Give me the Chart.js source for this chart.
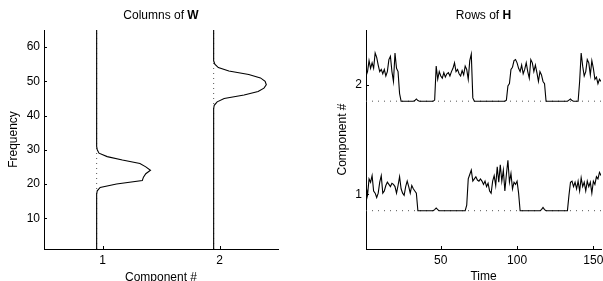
<!DOCTYPE html>
<html><head><meta charset="utf-8">
<script src="https://cdn.jsdelivr.net/npm/chart.js@4/dist/chart.umd.min.js"></script>
<style>
html,body{margin:0;padding:0;background:#fff;overflow:hidden;width:603px;height:281px}
#wrapL{position:absolute;left:0;top:0;width:300px;height:281px}
#wrapR{position:absolute;left:300px;top:0;width:303px;height:281px}
</style></head><body>
<div id="wrapL"><canvas id="cL"></canvas></div>
<div id="wrapR"><canvas id="cR"></canvas></div>
<script>
// ---- data ----
const components = [1, 2];
const frequencyTicks = [10, 20, 30, 40, 50, 60];
const timeTicks = [50, 100, 150];
const componentTicks = [1, 2];

// Columns of W (frequency 1..65)
const W1 = [0,0,0,0,0,0,0,0,0,0,0,0,0,0,0,0,0,
  0.005,0.03,0.17,0.39,0.40,0.42,0.46,0.42,0.37,0.22,0.09,0.02,0.005,
  0,0,0,0,0,0,0,0,0,0,0,0,0,0,0,0,0,0,0,0,0,0,0,0,0,0,0,0,0,0,0,0,0,0,0];
const W2 = [0,0,0,0,0,0,0,0,0,0,0,0,0,0,0,0,0,0,0,0,0,0,0,0,0,0,0,0,0,0,0,0,0,0,0,0,0,0,0,0,0,0,
  0.005,0.03,0.09,0.26,0.38,0.43,0.45,0.44,0.40,0.30,0.13,0.04,0.01,
  0,0,0,0,0,0,0,0,0,0];

// Rows of H (time 1..155)
const H1 = [0.23,0.14,0.29,0.26,0.32,0.18,0.16,0.12,0.16,0.26,0.32,0.16,0.18,0.23,0.26,0.24,0.22,0.25,0.24,0.22,0.16,0.23,0.31,0.20,0.16,0.14,0.22,0.27,0.22,0.16,0.23,0.20,0.18,0.16,
  0,0,0,0,0,0,0,0,0,0,0,0.01,0.025,0.01,0,0,0,0,0,0,0,0,0,0,0,0,0,0,0,0,0,0,
  0.05,0.29,0.33,0.37,0.27,0.29,0.31,0.28,0.27,0.29,0.27,0.24,0.27,0.22,0.25,0.18,0.16,0.27,0.32,0.23,0.40,0.26,0.42,0.27,0.37,0.18,0.33,0.46,0.26,0.34,0.20,0.26,0.24,0.27,0.16,
  0,0,0,0,0,0,0,0,0,0,0,0,0,0,0.01,0.03,0.01,0,0,0,0,0,0,0,0,0,0,0,0,0,0,0,
  0.14,0.26,0.27,0.22,0.26,0.20,0.27,0.18,0.30,0.22,0.26,0.18,0.27,0.22,0.26,0.16,0.27,0.24,0.31,0.29,0.35,0.32];
const H2 = [0.23,0.27,0.37,0.30,0.35,0.30,0.44,0.40,0.33,0.27,0.29,0.25,0.29,0.23,0.27,0.38,0.41,0.27,0.18,0.44,0.30,0.27,0.07,
  0,0,0,0,0,0,0,0,0,0.005,0.02,0.005,0,0,0,0,0,0,0,0,0,0,
  0.01,0.32,0.20,0.27,0.23,0.21,0.26,0.22,0.25,0.26,0.23,0.27,0.30,0.35,0.27,0.29,0.25,0.23,0.28,0.24,0.32,0.29,0.20,0.37,0.43,0.03,
  0,0,0,0,0,0,0,0,0,0,0,0,0,0,0,0,0,0,0,0,0,
  0.01,0.14,0.16,0.29,0.31,0.37,0.38,0.35,0.30,0.27,0.33,0.25,0.29,0.35,0.27,0.21,0.38,0.35,0.27,0.33,0.26,0.18,0.27,0.24,0.18,0.16,
  0,0,0,0,0,0,0,0,0,0,0,0,0,0,0,0.01,0.02,0.005,0,0,0,0,
  0.18,0.44,0.32,0.23,0.27,0.38,0.35,0.24,0.37,0.30,0.20,0.22,0.16,0.20,0.18];

const frequencies = W1.map((_, i) => i + 1);
const times = H1.map((_, i) => i + 1);

// ---- styling / helpers ----
const FONT = "'Liberation Sans', Arial, Helvetica, sans-serif";
const W_SHIFT = -0.05;  // baseline of each column relative to its component index
const H_SHIFT = -0.15;  // baseline of each row relative to its component index

const innerTicks = {
  id: 'innerTicks',
  afterDraw(chart) {
    const ctx = chart.ctx, a = chart.chartArea;
    const xs = chart.scales.x, ys = chart.scales.y;
    ctx.save();
    ctx.strokeStyle = '#000'; ctx.lineWidth = 1;
    ctx.beginPath();
    xs.ticks.forEach(t => {
      const p = Math.round(xs.getPixelForValue(t.value)) + 0.5;
      ctx.moveTo(p, a.bottom); ctx.lineTo(p, a.bottom - 3);
    });
    ys.ticks.forEach(t => {
      const p = Math.round(ys.getPixelForValue(t.value)) + 0.5;
      ctx.moveTo(a.left, p); ctx.lineTo(a.left + 3, p);
    });
    ctx.stroke();
    ctx.restore();
  }
};

const mixedTitle = {
  id: 'mixedTitle',
  afterDraw(chart, args, opts) {
    const parts = opts.parts; if (!parts) return;
    const ctx = chart.ctx, a = chart.chartArea;
    ctx.save();
    ctx.fillStyle = '#000';
    ctx.textBaseline = 'middle';
    let total = 0;
    const widths = parts.map(p => { ctx.font = p[1] + ' 12px ' + FONT; const w = ctx.measureText(p[0]).width; total += w; return w; });
    let x = (a.left + a.right) / 2 - total / 2;
    parts.forEach((p, i) => { ctx.font = p[1] + ' 12px ' + FONT; ctx.textAlign = 'left'; ctx.fillText(p[0], x, opts.y); x += widths[i]; });
    ctx.restore();
  }
};

function axis(min, max, tickVals, size, isX, titleText, titlePad) {
  return {
    type: 'linear', min: min, max: max,
    afterBuildTicks: s => { s.ticks = tickVals.map(v => ({ value: v })); },
    afterFit: s => {
      if (isX) s.height = size; else s.width = size;
      s.paddingLeft = 0; s.paddingRight = 0; s.paddingTop = 0; s.paddingBottom = 0;
    },
    grid: { display: false, drawTicks: false },
    border: { display: true, color: '#000', width: 1 },
    ticks: { color: '#000', font: { family: FONT, size: 12 }, padding: 4, maxRotation: 0, autoSkip: false },
    title: { display: true, text: titleText, color: '#000', font: { family: FONT, size: 12 }, padding: titlePad }
  };
}

const lineDS = (data, color, dash, width) => ({
  data: data, showLine: true, borderColor: color, borderWidth: width,
  borderDash: dash, pointRadius: 0, fill: false, tension: 0
});

// ---- left chart: Columns of W ----
const Wcols = [W1, W2];
const leftDatasets = [];
components.forEach((c, k) => {
  leftDatasets.push(lineDS(frequencies.map((f, i) => ({ x: c + W_SHIFT + Wcols[k][i], y: f })), '#000', [], 1.1));
});
components.forEach(c => {
  leftDatasets.push(lineDS([{ x: c + W_SHIFT, y: frequencies[0] }, { x: c + W_SHIFT, y: frequencies[frequencies.length - 1] }], '#555', [1, 4], 1));
});

new Chart(document.getElementById('cL'), {
  type: 'scatter',
  data: { datasets: leftDatasets },
  options: {
    responsive: true, maintainAspectRatio: false, animation: false, devicePixelRatio: 1,
    layout: { padding: { top: 30, right: 22, left: 0, bottom: 0 } },
    plugins: { legend: { display: false }, tooltip: { enabled: false },
      mixedTitle: { parts: [['Columns of ', 'normal'], ['W', 'bold']], y: 16 } },
    scales: {
      x: axis(0.5, 2.5, componentTicks, 32, true, 'Component #', { top: 0, bottom: -4 }),
      y: axis(1, 65, frequencyTicks, 44, false, 'Frequency', { top: 6, bottom: 0 })
    }
  },
  plugins: [innerTicks, mixedTitle]
});

// ---- right chart: Rows of H ----
const Hrows = [H1, H2];
const rightDatasets = [];
components.forEach((c, k) => {
  rightDatasets.push(lineDS(times.map((t, i) => ({ x: t, y: c + H_SHIFT + Hrows[k][i] })), '#000', [], 1.1));
});
components.forEach(c => {
  rightDatasets.push(lineDS([{ x: times[0], y: c + H_SHIFT }, { x: times[times.length - 1], y: c + H_SHIFT }], '#555', [1, 5], 1));
});

new Chart(document.getElementById('cR'), {
  type: 'scatter',
  data: { datasets: rightDatasets },
  options: {
    responsive: true, maintainAspectRatio: false, animation: false, devicePixelRatio: 1,
    layout: { padding: { top: 30, right: 2, left: 0, bottom: 0 } },
    plugins: { legend: { display: false }, tooltip: { enabled: false },
      mixedTitle: { parts: [['Rows of ', 'normal'], ['H', 'bold']], y: 16 } },
    scales: {
      x: axis(1, 155, timeTicks, 32, true, 'Time', { top: 0, bottom: -3 }),
      y: axis(0.5, 2.5, componentTicks, 66, false, 'Component #', { top: 35, bottom: 0 })
    }
  },
  plugins: [innerTicks, mixedTitle]
});
</script>
</body></html>
